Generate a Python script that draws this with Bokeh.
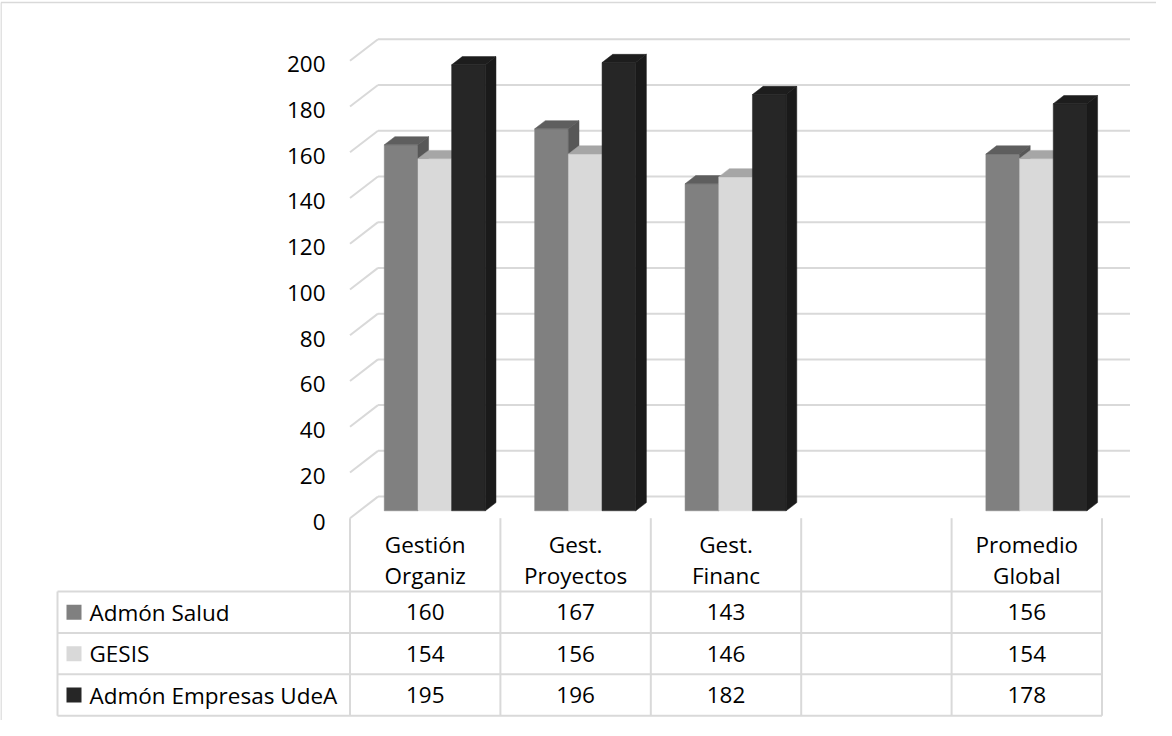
from bokeh.plotting import figure
from bokeh.models import Range1d
from bokeh.core.properties import value
from bokeh.embed import file_html
from bokeh.resources import INLINE

# ---------------- data ----------------
categories = ["Gestión\nOrganiz", "Gest.\nProyectos", "Gest.\nFinanc", "", "Promedio\nGlobal"]
series_names = ["Admón Salud", "GESIS", "Admón Empresas UdeA"]
admon_salud = [160, 167, 143, None, 156]
gesis = [154, 156, 146, None, 154]
admon_empresas_udea = [195, 196, 182, None, 178]
y_ticks = [0, 20, 40, 60, 80, 100, 120, 140, 160, 180, 200]

series_values = [admon_salud, gesis, admon_empresas_udea]

# ---------------- styles / layout ----------------
front_colors = ["#808080", "#d9d9d9", "#262626"]
top_colors = ["#5e5e5e", "#a6a6a6", "#1d1d1d"]
side_colors = ["#575757", "#bdbdbd", "#1a1a1a"]
grid_color = "#d9d9d9"
FONT = value("Open Sans")
FS = "22.5px"

W, H = 1156, 720
KX, KY = 150.4, 2.287          # px per category unit / per value unit
OX, OY = 357.5, 525.7          # page position of data (0, 0)


def sx(px):
    return (px - OX) / KX


def sy(py):
    return (OY - py) / KY


DX = 28.0 / KX                 # full depth offset (x units)
DY = 21.6 / KY                 # full depth offset (value units)
F0, BD = 0.343, 0.38           # bar front depth and bar depth (fractions)
F1 = F0 + BD
BW = 0.224                     # bar width (category units)
N = len(categories)

p = figure(width=W, height=H, output_backend="svg", toolbar_location=None,
           x_range=Range1d(sx(8), sx(8 + W)), y_range=Range1d(sy(8 + H), sy(8)),
           x_axis_location=None, y_axis_location=None, min_border=0)
p.grid.visible = False
p.outline_line_color = None
p.background_fill_color = "white"
p.border_fill_color = "white"

# outer chart border (left and top visible)
p.segment(x0=[sx(8.5), sx(8.5)], y0=[sy(10), sy(10)], x1=[sx(8.5), sx(8 + W)], y1=[sy(8 + H), sy(10)],
          line_color=grid_color, line_width=1.5)

# back wall gridlines and side wall gridlines
p.segment(x0=[DX] * len(y_ticks), y0=[v + DY for v in y_ticks],
          x1=[N + DX] * len(y_ticks), y1=[v + DY for v in y_ticks],
          line_color=grid_color, line_width=2)
p.segment(x0=[0] * len(y_ticks), y0=y_ticks,
          x1=[DX] * len(y_ticks), y1=[v + DY for v in y_ticks],
          line_color=grid_color, line_width=2)

# y tick labels
p.text(x=[sx(333)] * len(y_ticks), y=[v - 1.5 for v in y_ticks], text=[str(v) for v in y_ticks],
       text_align="right", text_baseline="middle", text_font=FONT, text_font_size=FS, text_color="#000000")

# 3D bars
for j, vals in enumerate(series_values):
    idx = [i for i, v in enumerate(vals) if v is not None]
    xl = [i + 0.5 + (j - 1.5) * BW for i in idx]
    xr = [x + BW for x in xl]
    v = [vals[i] for i in idx]
    p.vbar(x=[a + BW / 2 + F0 * DX for a in xl], width=BW, bottom=F0 * DY,
           top=[h + F0 * DY for h in v],
           fill_color=front_colors[j], line_color=front_colors[j], line_width=0.5,
           legend_label=series_names[j])
    top_xs = [[a + F0 * DX, b + F0 * DX, b + F1 * DX, a + F1 * DX] for a, b in zip(xl, xr)]
    top_ys = [[h + F0 * DY, h + F0 * DY, h + F1 * DY, h + F1 * DY] for h in v]
    p.patches(xs=top_xs, ys=top_ys, fill_color=top_colors[j], line_color=top_colors[j], line_width=0.5)
    side_xs = [[b + F0 * DX, b + F0 * DX, b + F1 * DX, b + F1 * DX] for b in xr]
    side_ys = [[F0 * DY, h + F0 * DY, h + F1 * DY, F1 * DY] for h in v]
    p.patches(xs=side_xs, ys=side_ys, fill_color=side_colors[j], line_color=side_colors[j], line_width=0.5)

p.legend.visible = False

# ---------------- data table ----------------
LEG_L = sx(65)
HDR_B = sy(599)
ROW_H = 41.43 / KY
row_lines = [HDR_B - k * ROW_H for k in range(4)]
p.segment(x0=[LEG_L] * 4, y0=row_lines, x1=[N] * 4, y1=row_lines, line_color=grid_color, line_width=2)
p.segment(x0=list(range(N + 1)) + [LEG_L], y0=[0] * (N + 1) + [HDR_B],
          x1=list(range(N + 1)) + [LEG_L], y1=[row_lines[-1]] * (N + 2),
          line_color=grid_color, line_width=2)

# header (category names, two lines)
l1 = [c.split("\n")[0] if c else "" for c in categories]
l2 = [c.split("\n")[1] if "\n" in c else "" for c in categories]
p.text(x=[i + 0.5 for i in range(N)], y=[sy(552)] * N, text=l1, text_align="center",
       text_baseline="middle", text_font=FONT, text_font_size=FS, text_color="#000000")
p.text(x=[i + 0.5 for i in range(N)], y=[sy(583)] * N, text=l2, text_align="center",
       text_baseline="middle", text_font=FONT, text_font_size=FS, text_color="#000000")

# rows
for r, vals in enumerate(series_values):
    yc = HDR_B - (r + 0.5) * ROW_H
    p.text(x=[i + 0.5 for i in range(N)], y=[yc] * N,
           text=["" if v is None else str(v) for v in vals], text_align="center",
           text_baseline="middle", text_font=FONT, text_font_size=FS, text_color="#000000")
    p.scatter(x=[sx(81.5)], y=[yc], marker="square", size=15, fill_color=front_colors[r], line_color=None)
    p.text(x=[sx(97)], y=[yc], text=[series_names[r]], text_align="left", text_baseline="middle",
           text_font=FONT, text_font_size=FS, text_color="#000000")

open("out.html", "w").write(file_html(p, INLINE))
